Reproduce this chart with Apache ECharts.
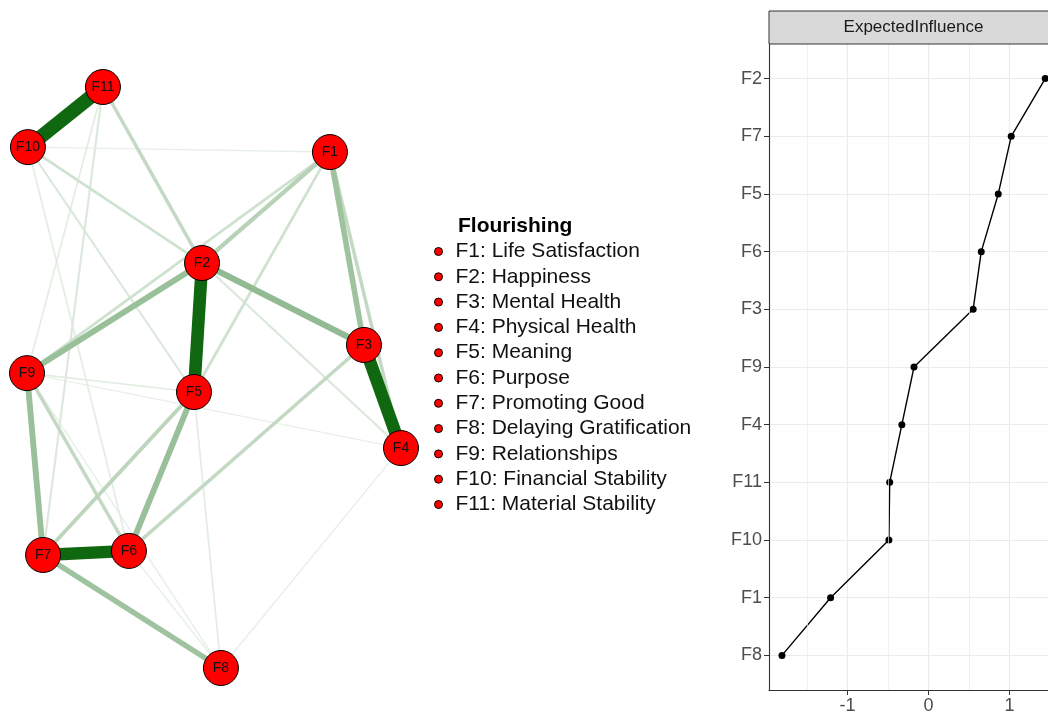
<!DOCTYPE html>
<html>
<head>
<meta charset="utf-8">
<script src="https://cdn.jsdelivr.net/npm/echarts@6/dist/echarts.min.js"></script>
<style>
  html, body { margin: 0; background: #fff; }
  #main { width: 1048px; height: 715px; }
</style>
</head>
<body>
<div id="main"></div>
<script>
// network nodes, qgraph layout coordinates (-1..1)
const nodeNames = ['F1', 'F2', 'F3', 'F4', 'F5', 'F6', 'F7', 'F8', 'F9', 'F10', 'F11']
const nodeX = [0.62, -0.064, 0.802, 1.0, -0.107, -0.455, -0.914, 0.037, -1.0, -0.995, -0.594]
const nodeY = [0.776, 0.394, 0.112, -0.243, -0.05, -0.597, -0.611, -1.0, 0.015, 0.793, 1.0]

// edges (relative weights)
const edgeFrom = ['F10', 'F2', 'F3', 'F6', 'F2', 'F2', 'F1', 'F9', 'F5', 'F7', 'F1', 'F5', 'F3', 'F1', 'F11', 'F9',
  'F1', 'F10', 'F2', 'F1', 'F10', 'F10', 'F11', 'F11', 'F9', 'F9', 'F5', 'F4', 'F6', 'F9', 'F1']
const edgeTo = ['F11', 'F5', 'F4', 'F7', 'F3', 'F9', 'F3', 'F7', 'F6', 'F8', 'F2', 'F7', 'F6', 'F4', 'F2', 'F6',
  'F5', 'F2', 'F4', 'F9', 'F5', 'F6', 'F7', 'F9', 'F5', 'F4', 'F8', 'F8', 'F8', 'F8', 'F10']
const edgeWeight = [1.0, 0.9, 0.9, 0.88, 0.45, 0.42, 0.4, 0.42, 0.42, 0.4, 0.3, 0.28, 0.25, 0.25, 0.25, 0.25,
  0.2, 0.2, 0.15, 0.2, 0.15, 0.12, 0.15, 0.12, 0.12, 0.1, 0.12, 0.1, 0.1, 0.1, 0.1]

// legend
const legendTitle = 'Flourishing'
const legendLabels = ['F1: Life Satisfaction', 'F2: Happiness', 'F3: Mental Health', 'F4: Physical Health',
  'F5: Meaning', 'F6: Purpose', 'F7: Promoting Good', 'F8: Delaying Gratification', 'F9: Relationships',
  'F10: Financial Stability', 'F11: Material Stability']

// centrality plot (bottom to top)
const eiNames = ['F8', 'F1', 'F10', 'F11', 'F4', 'F9', 'F3', 'F6', 'F5', 'F7', 'F2']
const eiValues = [-1.81, -1.21, -0.49, -0.48, -0.33, -0.18, 0.55, 0.65, 0.86, 1.02, 1.44]
const xMajorTicks = [-1, 0, 1]
const xMinorTicks = [-1.5, -0.5, 0.5]

const FONT = 'Liberation Sans, Arial, sans-serif'
const red = '#FF0000'

function edgeStyle(w) {
  // strong edges at full colour, weaker ones faded towards white
  const a = w >= 0.8 ? 1 : w
  const mix = c => Math.round(255 - a * (255 - c))
  return {
    width: Math.max(1.2, w * 14),
    color: 'rgb(' + mix(15) + ',' + mix(104) + ',' + mix(15) + ')',
    opacity: 1
  }
}

const links = edgeFrom.map((s, i) => ({ source: s, target: edgeTo[i], w: edgeWeight[i] }))
  .sort((a, b) => a.w - b.w)
  .map(l => ({ source: l.source, target: l.target, lineStyle: edgeStyle(l.w) }))

const nodes = nodeNames.map((n, i) => ({
  name: n,
  value: [nodeX[i], nodeY[i]],
  category: i
}))

const eiTicks = eiNames.map((n, i) => i + 1)

const chart = echarts.init(document.getElementById('main'))
chart.setOption({
  animation: false,
  backgroundColor: '#fff',
  textStyle: { fontFamily: FONT },
  title: {
    text: legendTitle,
    left: 458,
    top: 216,
    padding: 0,
    textStyle: { fontSize: 21, lineHeight: 21, fontWeight: 'bold', color: '#000', fontFamily: FONT }
  },
  legend: {
    orient: 'vertical',
    left: 434,
    top: 241,
    padding: 0,
    itemWidth: 24,
    itemHeight: 8,
    itemGap: 4.3,
    icon: 'circle',
    selectedMode: false,
    itemStyle: { color: red, borderColor: '#000', borderWidth: 1 },
    textStyle: { fontSize: 21, lineHeight: 21, color: '#111', fontFamily: FONT },
    data: legendLabels
  },
  graphic: [
    {
      type: 'rect',
      shape: { x: 769, y: 11, width: 300, height: 33 },
      style: { fill: '#D9D9D9', stroke: '#333', lineWidth: 1 },
      z: 10
    },
    {
      type: 'text',
      x: 913.5,
      y: 27.5,
      style: {
        text: 'ExpectedInfluence', fill: '#1A1A1A', font: '17px ' + FONT,
        align: 'center', verticalAlign: 'middle'
      },
      z: 11
    }
  ],
  grid: [
    { left: 27, right: 647, top: 87, bottom: 47, show: false },
    // panel runs past the right edge of the picture
    { left: 769, right: 0, top: 44, bottom: 23, show: false }
  ],
  xAxis: [
    { gridIndex: 0, type: 'value', min: -1, max: 1, show: false },
    {
      gridIndex: 1, type: 'value', min: -1.97, max: 1.474,
      axisLine: { show: true, onZero: false, lineStyle: { color: '#333', width: 1.1 } },
      axisTick: { show: true, length: 5, customValues: xMajorTicks, lineStyle: { color: '#333', width: 1 } },
      axisLabel: { customValues: xMajorTicks, color: '#4D4D4D', fontSize: 18, margin: 7 },
      splitLine: { show: true, lineStyle: { color: '#EBEBEB', width: 1.2 } }
    }
  ],
  yAxis: [
    { gridIndex: 0, type: 'value', min: -1, max: 1, show: false },
    {
      gridIndex: 1, type: 'value', min: 0.4, max: 11.6,
      axisLine: { show: true, onZero: false, lineStyle: { color: '#333', width: 1.1 } },
      axisTick: { show: true, length: 5, customValues: eiTicks, lineStyle: { color: '#333', width: 1 } },
      axisLabel: {
        customValues: eiTicks,
        formatter: v => eiNames[Math.round(v) - 1] || '',
        color: '#4D4D4D', fontSize: 18, margin: 7
      },
      splitLine: { show: true, lineStyle: { color: '#EBEBEB', width: 1.2 } }
    }
  ],
  series: [
    {
      type: 'graph',
      coordinateSystem: 'cartesian2d',
      xAxisIndex: 0,
      yAxisIndex: 0,
      symbol: 'circle',
      symbolSize: 35,
      itemStyle: { color: red, borderColor: '#000', borderWidth: 1 },
      label: { show: true, position: 'inside', color: '#111', fontSize: 14, fontFamily: FONT },
      lineStyle: { opacity: 1 },
      emphasis: { disabled: true },
      categories: legendLabels.map(n => ({ name: n, itemStyle: { color: red, borderColor: '#000', borderWidth: 1 } })),
      data: nodes,
      links: links
    },
    {
      // minor grid lines of the theme_bw panel
      type: 'line',
      xAxisIndex: 1,
      yAxisIndex: 1,
      data: [],
      z: 1,
      silent: true,
      markLine: {
        silent: true,
        symbol: ['none', 'none'],
        label: { show: false },
        lineStyle: { color: '#EBEBEB', width: 0.7, type: 'solid' },
        data: xMinorTicks.map(v => ({ xAxis: v }))
      }
    },
    {
      name: 'ExpectedInfluence',
      type: 'line',
      xAxisIndex: 1,
      yAxisIndex: 1,
      z: 3,
      symbol: 'circle',
      symbolSize: 7,
      itemStyle: { color: '#000' },
      lineStyle: { color: '#000', width: 1.4 },
      data: eiValues.map((v, i) => [v, i + 1])
    }
  ]
})
</script>
</body>
</html>
